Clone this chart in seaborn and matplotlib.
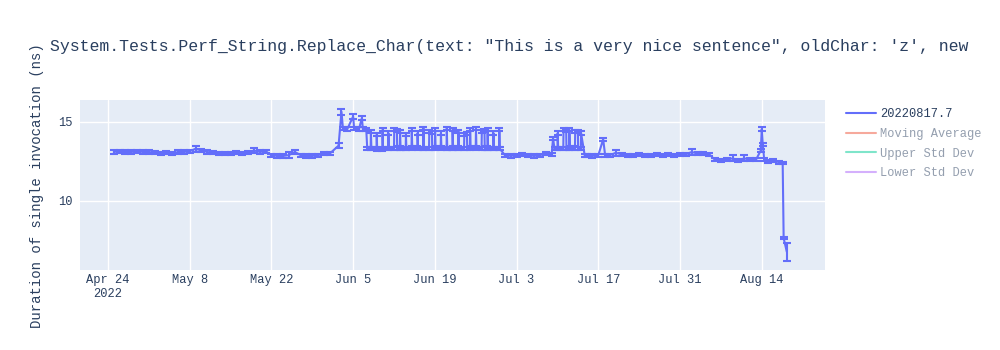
import numpy as np
import pandas as pd
import matplotlib
matplotlib.use("Agg")
import matplotlib.pyplot as plt
import matplotlib.dates as mdates
from matplotlib.lines import Line2D
from matplotlib.ticker import FuncFormatter, FixedLocator
import seaborn as sns

# ---------------- data ----------------
# timestamps as "MM-DD HH" in 2022, with value and error (std) per run
dates = [
    # Apr 25-30
    "04-25 00", "04-26 00", "04-27 00", "04-28 00", "04-29 00", "04-30 00",
    # May
    "05-01 00", "05-02 00", "05-03 00", "05-04 00", "05-05 00", "05-06 00",
    "05-07 00", "05-08 00", "05-09 00", "05-10 00", "05-11 00", "05-12 00",
    "05-13 00", "05-14 00", "05-15 00", "05-16 00", "05-17 00", "05-18 00",
    "05-19 00", "05-20 00", "05-21 00", "05-22 00", "05-23 00", "05-24 00",
    "05-25 00", "05-26 00", "05-27 00", "05-28 00", "05-29 00", "05-30 00",
    "05-31 00",
    # Jun 1-7
    "06-01 00", "06-02 12", "06-03 00", "06-03 06", "06-04 00", "06-05 00",
    "06-05 04", "06-06 00", "06-06 12", "06-06 16", "06-07 06", "06-07 10",
    # Jun 8-30
    "06-08 00", "06-08 01", "06-08 03",
    "06-09 00", "06-09 01", "06-09 03",
    "06-10 00", "06-10 01", "06-10 03",
    "06-11 00", "06-11 01", "06-11 03",
    "06-12 00", "06-12 01", "06-12 12", "06-12 13",
    "06-13 00", "06-13 01", "06-13 03",
    "06-14 00", "06-14 01", "06-14 03",
    "06-15 00", "06-15 01", "06-15 03",
    "06-16 00", "06-16 01", "06-16 03",
    "06-17 00", "06-17 01", "06-17 03",
    "06-18 00", "06-18 01", "06-18 12", "06-18 13",
    "06-19 00", "06-19 01", "06-19 03",
    "06-20 00", "06-20 01", "06-20 03",
    "06-21 00", "06-21 01", "06-21 03",
    "06-22 00", "06-22 01", "06-22 03",
    "06-23 00", "06-23 01", "06-23 03",
    "06-24 00", "06-24 01", "06-24 12", "06-24 13",
    "06-25 00", "06-25 01", "06-25 03",
    "06-26 00", "06-26 01", "06-26 03",
    "06-27 00", "06-27 01", "06-27 12", "06-27 13",
    "06-28 00", "06-28 01", "06-28 03",
    "06-29 00", "06-29 01", "06-29 03",
    "06-30 00", "06-30 01", "06-30 03",
    # Jul 1-9
    "07-01 00", "07-02 00", "07-03 00", "07-04 00", "07-05 00", "07-06 00",
    "07-07 00", "07-08 00", "07-09 00", "07-09 06", "07-09 12",
    # Jul 10-14
    "07-10 00", "07-10 01", "07-10 03",
    "07-11 00", "07-11 01", "07-11 12", "07-11 13",
    "07-12 00", "07-12 01", "07-12 03",
    "07-13 00", "07-13 01", "07-13 12", "07-13 13",
    "07-14 00", "07-14 01", "07-14 16",
    # Jul 15-20
    "07-15 00", "07-16 00", "07-17 00", "07-17 20", "07-18 04", "07-19 00",
    "07-20 00",
    # Jul 21-31
    "07-21 00", "07-22 00", "07-23 00", "07-24 00", "07-25 00", "07-26 00",
    "07-27 00", "07-28 00", "07-29 00", "07-30 00", "07-31 00",
    # Aug 1-12
    "08-01 00", "08-02 00", "08-03 00", "08-04 00", "08-05 00", "08-06 00",
    "08-07 00", "08-08 00", "08-09 00", "08-10 00", "08-11 00", "08-12 00",
    # tail
    "08-13 00", "08-13 20", "08-14 00", "08-14 04", "08-14 10", "08-15 00",
    "08-16 00", "08-17 00", "08-17 14", "08-17 18", "08-18 07",
]
values = [
    13.1, 13.15, 13.1, 13.1, 13.15, 13.1,
    13.1, 13.05, 13.0, 13.05, 13.0, 13.1,
    13.1, 13.15, 13.3, 13.2, 13.1, 13.05,
    13.0, 13.0, 13.0, 13.05, 13.0, 13.05,
    13.2, 13.1, 13.15, 12.9, 12.85, 12.85,
    12.9, 13.1, 12.9, 12.85, 12.85, 12.9,
    13.0,
    13.0, 13.5, 15.65, 14.6, 14.55, 15.35,
    14.6, 14.55, 15.25, 14.55, 14.5, 13.3,
    # Jun 8-30
    13.3, 14.4, 13.3,
    13.3, 14.2, 13.25,
    13.25, 14.5, 13.3,
    13.3, 14.3, 13.3,
    13.3, 14.5, 14.45, 13.35,
    13.35, 14.4, 13.3,
    13.3, 14.2, 13.3,
    13.3, 14.5, 13.4,
    13.4, 14.3, 13.3,
    13.3, 14.6, 13.3,
    13.3, 14.4, 14.35, 13.3,
    13.3, 14.5, 13.4,
    13.4, 14.3, 13.3,
    13.3, 14.6, 13.3,
    13.3, 14.5, 13.35,
    13.35, 14.4, 13.3,
    13.3, 14.2, 14.25, 13.3,
    13.3, 14.5, 13.4,
    13.4, 14.6, 13.3,
    13.3, 14.4, 14.45, 13.35,
    13.35, 14.5, 13.3,
    13.3, 14.3, 13.3,
    13.3, 14.5, 13.3,
    # Jul 1-9
    12.9, 12.85, 12.9, 12.95, 12.9, 12.85,
    12.9, 13.0, 12.95, 13.95, 13.3,
    # Jul 10-14
    13.3, 14.3, 13.3,
    13.3, 14.5, 14.45, 13.3,
    13.3, 14.5, 13.35,
    13.35, 14.4, 14.4, 13.3,
    13.3, 14.3, 12.9,
    # Jul 15-20
    12.9, 12.85, 12.9, 13.9, 12.9, 12.9,
    13.05,
    12.95, 12.9, 12.9, 12.95, 12.9, 12.9,
    12.95, 12.9, 12.95, 12.9, 12.95,
    12.95, 13.1, 13.0, 13.0, 12.95, 12.6,
    12.55, 12.6, 12.7, 12.55, 12.7, 12.6,
    12.6, 13.2, 14.55, 13.6, 12.6, 12.5,
    12.55, 12.45, 12.4, 7.65, 6.78,
]
errors = [
    0.1, 0.1, 0.1, 0.1, 0.1, 0.1,
    0.1, 0.1, 0.1, 0.1, 0.1, 0.1,
    0.1, 0.1, 0.2, 0.1, 0.1, 0.1,
    0.1, 0.1, 0.1, 0.1, 0.1, 0.1,
    0.15, 0.1, 0.1, 0.1, 0.1, 0.1,
    0.2, 0.1, 0.1, 0.1, 0.1, 0.1,
    0.1,
    0.1, 0.15, 0.2, 0.1, 0.1, 0.15,
    0.1, 0.1, 0.15, 0.1, 0.1, 0.1,
    # Jun 8-30
    0.1, 0.1, 0.1,
    0.1, 0.1, 0.1,
    0.1, 0.1, 0.1,
    0.1, 0.1, 0.1,
    0.1, 0.1, 0.1, 0.1,
    0.1, 0.1, 0.1,
    0.1, 0.1, 0.1,
    0.1, 0.1, 0.1,
    0.1, 0.1, 0.1,
    0.1, 0.1, 0.1,
    0.1, 0.1, 0.1, 0.1,
    0.1, 0.1, 0.1,
    0.1, 0.1, 0.1,
    0.1, 0.1, 0.1,
    0.1, 0.1, 0.1,
    0.1, 0.1, 0.1,
    0.1, 0.1, 0.1, 0.1,
    0.1, 0.1, 0.1,
    0.1, 0.1, 0.1,
    0.1, 0.1, 0.1, 0.1,
    0.1, 0.1, 0.1,
    0.1, 0.1, 0.1,
    0.1, 0.1, 0.1,
    # Jul 1-9
    0.1, 0.1, 0.1, 0.1, 0.1, 0.1,
    0.1, 0.1, 0.1, 0.1, 0.1,
    # Jul 10-14
    0.1, 0.1, 0.1,
    0.1, 0.1, 0.1, 0.1,
    0.1, 0.1, 0.1,
    0.1, 0.1, 0.1, 0.1,
    0.1, 0.1, 0.1,
    # Jul 15-20
    0.1, 0.1, 0.1, 0.1, 0.1, 0.1,
    0.2,
    0.1, 0.1, 0.1, 0.1, 0.1, 0.1,
    0.1, 0.1, 0.1, 0.1, 0.1,
    0.1, 0.2, 0.1, 0.1, 0.1, 0.1,
    0.1, 0.1, 0.2, 0.1, 0.2, 0.1,
    0.1, 0.1, 0.15, 0.1, 0.1, 0.1,
    0.1, 0.1, 0.05, 0.05, 0.57,
]

legend_names = ["20220817.7", "Moving Average", "Upper Std Dev", "Lower Std Dev"]
y_ticks = [10, 15]
title_text = ('System.Tests.Perf_String.Replace_Char(text: "This is a very nice sentence", '
              "oldChar: 'z', new")
y_label = "Duration of single invocation (ns)"

# ---------------- frame ----------------
df = pd.DataFrame({
    "date": pd.to_datetime(["2022-" + d + ":00" for d in dates], format="%Y-%m-%d %H:%M"),
    "value": values,
    "err": errors,
})

BLUE = "#636EFA"
RED = "#EF553B"
GREEN = "#00CC96"
PURPLE = "#AB63FA"
TEXT = "#2a3f5f"
BG = "#E5ECF6"

sns.set_theme(style="darkgrid")
plt.rcParams['font.family'] = ['Liberation Mono', 'DejaVu Sans Mono', 'DejaVu Sans']

fig = plt.figure(figsize=(10, 3.5), dpi=100)
ax = fig.add_axes([80 / 1000, 80 / 350, 745 / 1000, 170 / 350])
ax.set_facecolor(BG)

sns.lineplot(data=df, x="date", y="value", ax=ax, color=BLUE, linewidth=1.5,
             legend=False, zorder=3, sort=False)
ax.errorbar(df["date"], df["value"], yerr=df["err"], fmt="none", ecolor=BLUE,
            elinewidth=1.5, capsize=3.2, capthick=1.5, zorder=3)

ax.set_xlim(pd.Timestamp("2022-04-19 05:00"), pd.Timestamp("2022-08-24 20:00"))
ax.set_ylim(5.63, 16.39)

xt = pd.date_range("2022-04-24", "2022-08-14", freq="14D")
ax.xaxis.set_major_locator(FixedLocator(mdates.date2num(xt)))

def fmt_date(v, pos):
    d = mdates.num2date(v)
    s = f"{d.strftime('%b')} {d.day}"
    if pos == 0:
        s += "\n2022"
    return s

ax.xaxis.set_major_formatter(FuncFormatter(fmt_date))
ax.set_yticks(y_ticks)
ax.tick_params(axis="both", length=0, labelsize=8.64, labelcolor=TEXT)
ax.tick_params(axis="x", pad=3)
ax.tick_params(axis="y", pad=5)
for lab in ax.get_xticklabels():
    lab.set_linespacing(1.25)

ax.grid(True, color="white", linewidth=1.0)
for s in ax.spines.values():
    s.set_visible(False)
ax.set_xlabel("")
ax.set_ylabel("")

fig.text(50 / 1000, 1 - 47 / 350, title_text, ha="left", va="center",
         fontsize=11.9, color=TEXT)
fig.text(37 / 1000, 1 - 186 / 350, y_label, rotation=90, ha="center",
         va="center", fontsize=10.08, color=TEXT)

handles = [
    Line2D([], [], color=BLUE, linewidth=1.5),
    Line2D([], [], color=RED, linewidth=1.5, alpha=0.5),
    Line2D([], [], color=GREEN, linewidth=1.5, alpha=0.5),
    Line2D([], [], color=PURPLE, linewidth=1.5, alpha=0.5),
]
leg = fig.legend(handles, legend_names, loc="upper left",
                 bbox_to_anchor=(846 / 1000, 1 - 108 / 350), frameon=False,
                 fontsize=8.64, handlelength=2.5, handletextpad=0.35,
                 labelspacing=0.65, borderpad=0, borderaxespad=0)
for i, t in enumerate(leg.get_texts()):
    t.set_color(TEXT)
    if i > 0:
        t.set_alpha(0.5)

fig.savefig("out.png", dpi=100)
